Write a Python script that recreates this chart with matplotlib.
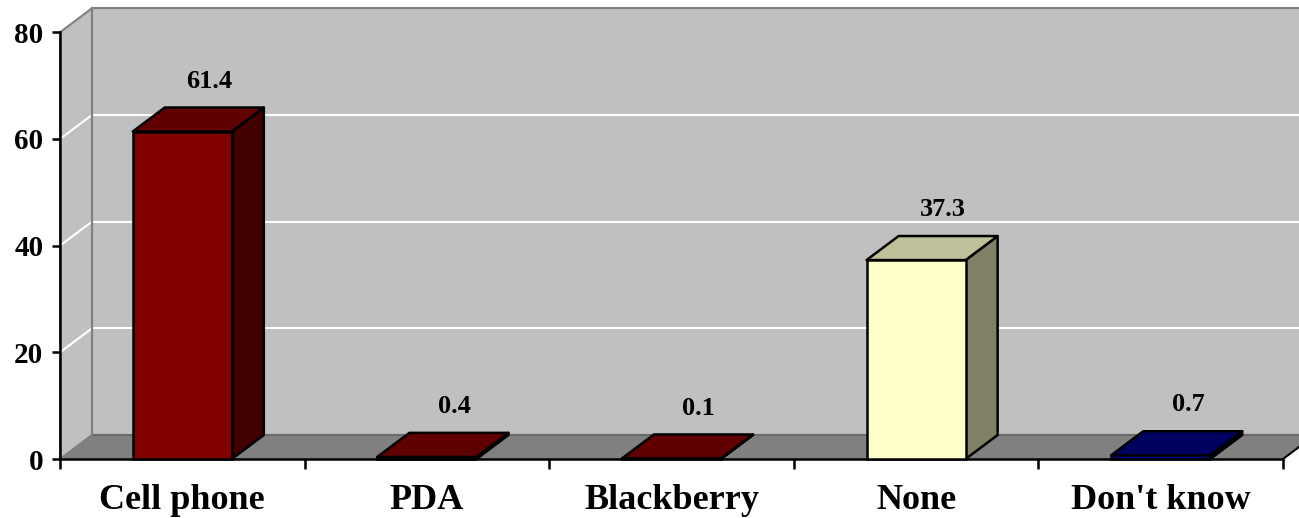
import matplotlib
matplotlib.use("Agg")
import matplotlib.pyplot as plt
from matplotlib.patches import Polygon

categories = ["Cell phone", "PDA", "Blackberry", "None", "Don't know"]
values = [61.4, 0.4, 0.1, 37.3, 0.7]
value_labels = ["61.4", "0.4", "0.1", "37.3", "0.7"]
yticks = [0, 20, 40, 60, 80]

front_colors = ["#800000", "#800000", "#800000", "#FFFFCC", "#000080"]
top_colors = ["#600000", "#600000", "#600000", "#C0C09A", "#000060"]
side_colors = ["#400000", "#400000", "#400000", "#808066", "#000040"]

W, H = 1299, 518
fig = plt.figure(figsize=(W / 100, H / 100), dpi=100)
fig.patch.set_facecolor("white")

x0p, x1p, y0p, y1p = 60, 1283, 459, 32.3
ax = fig.add_axes([x0p / W, 1 - y0p / H, (x1p - x0p) / W, (y0p - y1p) / H])
ax.set_xlim(0, len(categories))
ax.set_ylim(0, 80)
ax.patch.set_visible(False)

# depth offsets in data units (32 px right, 24 px up)
DX = 32 / ((x1p - x0p) / len(categories))
DY = 24 / ((y0p - y1p) / 80)
N = len(categories)
wall_col = "#C0C0C0"
floor_col = "#808080"
edge_grey = "#808080"

# back wall
ax.add_patch(Polygon([(DX, DY), (N + 1, DY), (N + 1, 80 + DY), (DX, 80 + DY)],
                     closed=True, facecolor=wall_col, edgecolor=edge_grey, lw=1.5,
                     clip_on=False, zorder=0))
# left wall
ax.add_patch(Polygon([(0, 0), (DX, DY), (DX, 80 + DY), (0, 80)],
                     closed=True, facecolor=wall_col, edgecolor=edge_grey, lw=1.5,
                     clip_on=False, zorder=0.5))
# gridlines
for v in yticks[1:-1]:
    ax.plot([DX, N + 1], [v + DY, v + DY], color="white", lw=1.5, clip_on=False, zorder=0.6)
    ax.plot([0, DX], [v, v + DY], color="white", lw=1.5, clip_on=False, zorder=0.6)
# floor
ax.add_patch(Polygon([(0, 0), (N, 0), (N + DX, DY), (DX, DY)],
                     closed=True, facecolor=floor_col, edgecolor="none",
                     clip_on=False, zorder=0.7))
ax.plot([DX, N + 1], [DY, DY], color="#6a6a6a", lw=1.5, clip_on=False, zorder=0.8)
ax.plot([N, N + DX], [0, DY], color="black", lw=1.5, clip_on=False, zorder=0.8)
ax.plot([DX, DX], [DY, 80 + DY], color=edge_grey, lw=1.5, clip_on=False, zorder=0.8)

# bars
bw = 0.405
centers = [i + 0.5 for i in range(N)]
for i, (c, v) in enumerate(zip(centers, values)):
    xa, xb = c - bw / 2, c + bw / 2
    z = 2 + i
    ax.add_patch(Polygon([(xb, 0), (xb + DX, DY), (xb + DX, v + DY), (xb, v)],
                         closed=True, facecolor=side_colors[i], edgecolor="black",
                         lw=1.8, joinstyle="round", zorder=z, clip_on=False))
    ax.add_patch(Polygon([(xa, v), (xb, v), (xb + DX, v + DY), (xa + DX, v + DY)],
                         closed=True, facecolor=top_colors[i], edgecolor="black",
                         lw=1.8, joinstyle="round", zorder=z, clip_on=False))
    ax.bar(c, v, width=bw, color=front_colors[i], edgecolor="black", lw=1.8,
           zorder=z + 0.1, clip_on=False)
    ax.text(c + DX * 0.85, v + DY / 2 + 7.2, value_labels[i], ha="center", va="center",
            fontsize=19, fontweight="bold", family="Liberation Serif", zorder=10)

# axes
for s in ["top", "right"]:
    ax.spines[s].set_visible(False)
for s in ["left", "bottom"]:
    ax.spines[s].set_linewidth(1.8)
    ax.spines[s].set_color("black")
    ax.spines[s].set_zorder(1)
ax.set_yticks(yticks)
ax.set_yticklabels([str(t) for t in yticks])
ax.set_xticks(range(N + 1))
ax.set_xticklabels([])
ax.set_xticks(centers, minor=True)
ax.set_xticklabels(categories, minor=True)
ax.tick_params(axis="y", length=6, width=1.8, pad=6, labelsize=21)
ax.tick_params(axis="x", which="major", length=7, width=1.8)
ax.tick_params(axis="x", which="minor", length=0, pad=18, labelsize=26)
for lab in ax.get_yticklabels() + ax.get_xticklabels(minor=True):
    lab.set_fontfamily("Liberation Serif")
    lab.set_fontweight("bold")

fig.savefig("out.png", dpi=100)
